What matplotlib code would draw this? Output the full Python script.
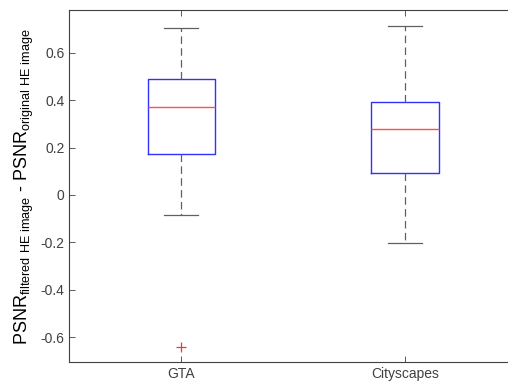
import matplotlib.pyplot as plt

plt.rcParams['font.family'] = ['Liberation Sans', 'DejaVu Sans']
plt.rcParams['mathtext.fontset'] = 'custom'
plt.rcParams['mathtext.rm'] = 'Liberation Sans'
plt.rcParams['axes.unicode_minus'] = False

# valores
etiquetas = ['GTA', 'Cityscapes']
bigote_sup = [0.703, 0.713]
q3 = [0.488, 0.391]
mediana = [0.370, 0.280]
q1 = [0.174, 0.093]
bigote_inf = [-0.084, -0.204]
atipicos = [[-0.640], []]

stats = []
for i in range(len(etiquetas)):
    stats.append({
        'label': etiquetas[i],
        'whishi': bigote_sup[i], 'q3': q3[i], 'med': mediana[i],
        'q1': q1[i], 'whislo': bigote_inf[i], 'fliers': atipicos[i],
    })

gris = '#404040'
fig = plt.figure(figsize=(5.08, 3.85), dpi=100)
ax = fig.add_axes([0.1365, 0.059, 0.881, 0.915])

ax.bxp(stats, positions=[1, 2], widths=0.3,
       boxprops=dict(color='#3030ff', linewidth=1.0),
       medianprops=dict(color='#ff5050', linewidth=1.0),
       whiskerprops=dict(color='#606060', linewidth=0.9, linestyle=(0, (6, 3.5))),
       capprops=dict(color='#606060', linewidth=0.9),
       capwidths=0.15,
       flierprops=dict(marker='+', markeredgecolor='#ff3030', markersize=7, markeredgewidth=0.9))

ax.set_xlim(0.5, 2.5)
ax.set_ylim(-0.706, 0.78)
ax.set_yticks([-0.6, -0.4, -0.2, 0, 0.2, 0.4, 0.6])
ax.set_yticklabels(['-0.6', '-0.4', '-0.2', '0', '0.2', '0.4', '0.6'])
ax.set_xticks([1, 2])
ax.set_xticklabels(etiquetas)
ax.tick_params(direction='in', colors=gris, labelsize=10, length=4, width=0.6,
               top=True, right=False)
ax.spines['right'].set_visible(False)
for s in ax.spines.values():
    s.set_color(gris)
    s.set_linewidth(0.8)

ax.set_ylabel(r'PSNR$_{\mathrm{filtered\ HE\ image}}$ - PSNR$_{\mathrm{original\ HE\ image}}$',
              fontsize=13, color='black', labelpad=3)

fig.savefig('out.png', dpi=100)
